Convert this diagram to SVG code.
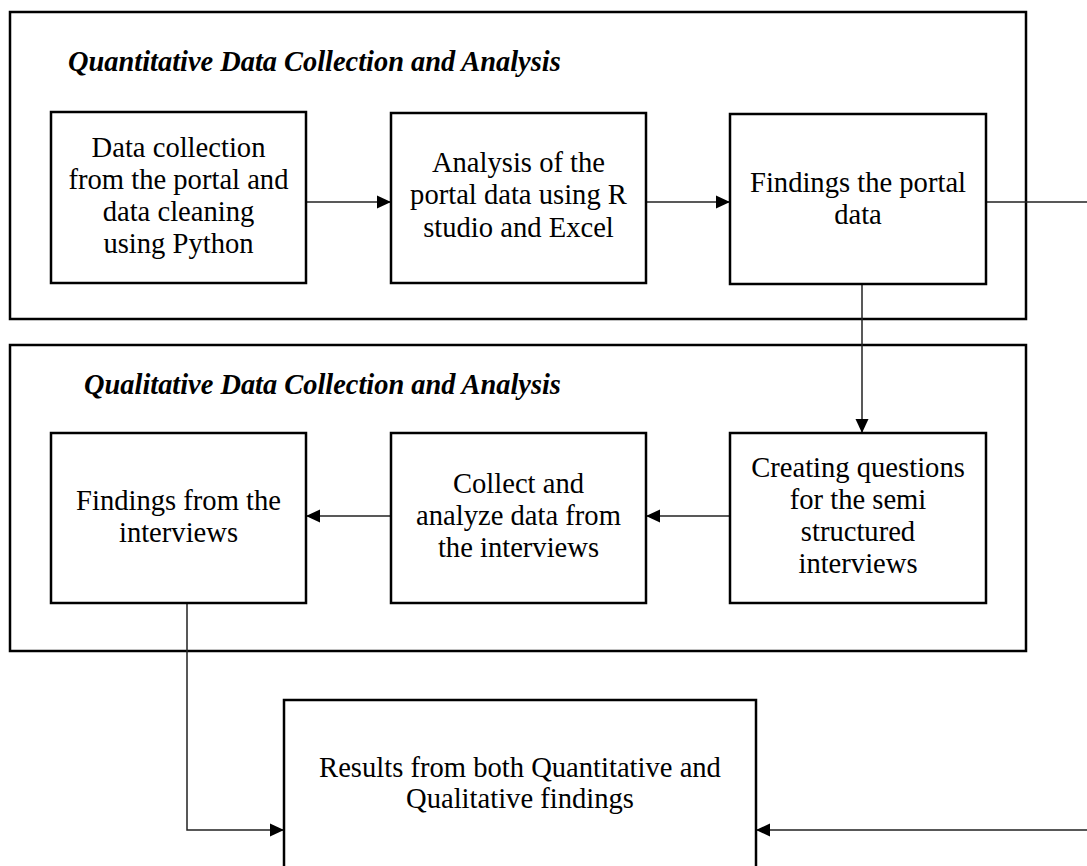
<svg xmlns="http://www.w3.org/2000/svg" width="1087" height="866" viewBox="0 0 1087 866">
<style>
.frame{fill:none;stroke:#000;stroke-width:2.5}
.node{fill:#fff;stroke:#000;stroke-width:2.5}
.t{font-family:"Liberation Serif","Times New Roman",serif;font-size:28.6px;fill:#000;text-anchor:middle}
.title{font-family:"Liberation Serif","Times New Roman",serif;font-size:28.4px;font-weight:bold;font-style:italic;fill:#000}
.c{fill:none;stroke:#222;stroke-width:1.5}
</style>
<defs>
<marker id="ah" markerUnits="userSpaceOnUse" markerWidth="14" markerHeight="14" viewBox="0 0 14 14" refX="14" refY="7" orient="auto">
<path d="M0,0.5 L14,7 L0,13.5 Z" fill="#000"/>
</marker>
</defs>
<rect x="0" y="0" width="1087" height="866" fill="#fff"/>

<g id="quant-frame">
<rect class="frame" x="10" y="12" width="1016" height="307"/>
<text class="title" x="68" y="71">Quantitative Data Collection and Analysis</text>
</g>
<g id="qual-frame">
<rect class="frame" x="10" y="345" width="1016" height="306"/>
<text class="title" x="84" y="394">Qualitative Data Collection and Analysis</text>
</g>

<g id="connectors">
<line class="c" x1="306" y1="202" x2="391" y2="202" marker-end="url(#ah)"/>
<line class="c" x1="646" y1="202" x2="730" y2="202" marker-end="url(#ah)"/>
<path class="c" d="M986,202 H1095 V830 H756" marker-end="url(#ah)"/>
<line class="c" x1="862" y1="284" x2="862" y2="433" marker-end="url(#ah)"/>
<line class="c" x1="730" y1="516" x2="646" y2="516" marker-end="url(#ah)"/>
<line class="c" x1="391" y1="516" x2="306" y2="516" marker-end="url(#ah)"/>
<path class="c" d="M187,603 V830 H284" marker-end="url(#ah)"/>
</g>

<g id="n1">
<rect class="node" x="51" y="112" width="255" height="171"/>
<text class="t" x="178.5" y="157">Data collection</text>
<text class="t" x="178.5" y="189">from the portal and</text>
<text class="t" x="178.5" y="221">data cleaning</text>
<text class="t" x="178.5" y="253">using Python</text>
</g>
<g id="n2">
<rect class="node" x="391" y="113" width="255" height="170"/>
<text class="t" x="518.5" y="172">Analysis of the</text>
<text class="t" x="518.5" y="204">portal data using R</text>
<text class="t" x="518.5" y="237">studio and Excel</text>
</g>
<g id="n3">
<rect class="node" x="730" y="114" width="256" height="170"/>
<text class="t" x="858" y="192">Findings the portal</text>
<text class="t" x="858" y="224">data</text>
</g>
<g id="n4">
<rect class="node" x="730" y="433" width="256" height="170"/>
<text class="t" x="858" y="477">Creating questions</text>
<text class="t" x="858" y="509">for the semi</text>
<text class="t" x="858" y="541">structured</text>
<text class="t" x="858" y="573">interviews</text>
</g>
<g id="n5">
<rect class="node" x="391" y="433" width="255" height="170"/>
<text class="t" x="518.5" y="493">Collect and</text>
<text class="t" x="518.5" y="525">analyze data from</text>
<text class="t" x="518.5" y="557">the interviews</text>
</g>
<g id="n6">
<rect class="node" x="51" y="433" width="255" height="170"/>
<text class="t" x="178.5" y="510">Findings from the</text>
<text class="t" x="178.5" y="542">interviews</text>
</g>
<g id="n7">
<rect class="node" x="284" y="700" width="472" height="200"/>
<text class="t" x="520" y="777">Results from both Quantitative and</text>
<text class="t" x="520" y="808">Qualitative findings</text>
</g>
</svg>
